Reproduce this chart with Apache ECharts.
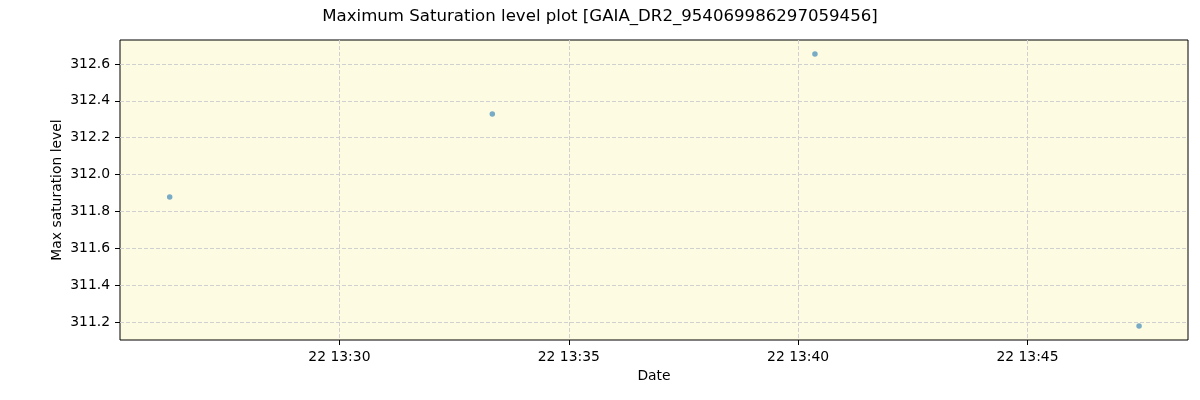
<!DOCTYPE html>
<html>
<head>
<meta charset="utf-8">
<script src="https://cdn.jsdelivr.net/npm/echarts@6/dist/echarts.min.js"></script>
<style>
  html, body { margin: 0; padding: 0; background: #fff; }
  #chart { width: 1200px; height: 400px; }
</style>
</head>
<body>
<div id="chart"></div>
<script>
// data (UTC times)
const times = ['2019-01-22T13:26:18Z', '2019-01-22T13:33:20Z', '2019-01-22T13:40:22Z', '2019-01-22T13:47:26Z'];
const values = [311.878, 312.329, 312.654, 311.178];

const xTicks = ['2019-01-22T13:30:00Z', '2019-01-22T13:35:00Z', '2019-01-22T13:40:00Z', '2019-01-22T13:45:00Z'];
const yTicks = [311.2, 311.4, 311.6, 311.8, 312.0, 312.2, 312.4, 312.6];

const xMin = Date.parse('2019-01-22T13:25:13Z');
const xMax = Date.parse('2019-01-22T13:48:30Z');
const yMin = 311.102;
const yMax = 312.73;

const pad = n => String(n).padStart(2, '0');
const fmtTime = v => {
  const d = new Date(v);
  return d.getUTCDate() + ' ' + pad(d.getUTCHours()) + ':' + pad(d.getUTCMinutes());
};

const points = times.map((t, i) => [Date.parse(t), values[i]]);
const xTickVals = xTicks.map(t => Date.parse(t));

const font = 'DejaVu Sans';

const chart = echarts.init(document.getElementById('chart'));
chart.setOption({
  animation: false,
  title: {
    text: 'Maximum Saturation level plot [GAIA_DR2_954069986297059456]',
    left: 'center',
    top: 3,
    textStyle: { fontFamily: font, fontSize: 16.6, fontWeight: 'normal', color: '#000' }
  },
  grid: {
    left: 120, right: 12, top: 40, bottom: 60,
    show: true,
    backgroundColor: '#fdfbe2',
    borderColor: '#000',
    borderWidth: 1
  },
  xAxis: {
    type: 'value',
    min: xMin,
    max: xMax,
    name: 'Date',
    nameLocation: 'middle',
    nameGap: 29,
    nameMoveOverlap: false,
    nameTextStyle: { fontFamily: font, fontSize: 13.9, color: '#000' },
    axisLine: { show: false },
    axisTick: { show: true, length: 5, lineStyle: { color: '#000' }, customValues: xTickVals },
    axisLabel: {
      fontFamily: font, fontSize: 13.9, color: '#000', margin: 10,
      customValues: xTickVals,
      formatter: fmtTime
    },
    splitLine: { show: true, lineStyle: { color: '#d0d0d0', type: [4, 2], width: 1 } }
  },
  yAxis: {
    type: 'value',
    min: yMin,
    max: yMax,
    name: 'Max saturation level',
    nameLocation: 'middle',
    nameGap: 56,
    nameMoveOverlap: false,
    nameTextStyle: { fontFamily: font, fontSize: 13.9, color: '#000' },
    axisLine: { show: false },
    axisTick: { show: true, length: 5, lineStyle: { color: '#000' }, customValues: yTicks },
    axisLabel: {
      fontFamily: font, fontSize: 13.9, color: '#000', margin: 10,
      customValues: yTicks,
      formatter: v => v.toFixed(1)
    },
    splitLine: { show: true, lineStyle: { color: '#d0d0d0', type: [4, 2], width: 1 } }
  },
  series: [{
    type: 'scatter',
    data: points,
    symbolSize: 5.5,
    itemStyle: { color: '#1f77b4', opacity: 0.6 }
  }]
});
</script>
</body>
</html>
